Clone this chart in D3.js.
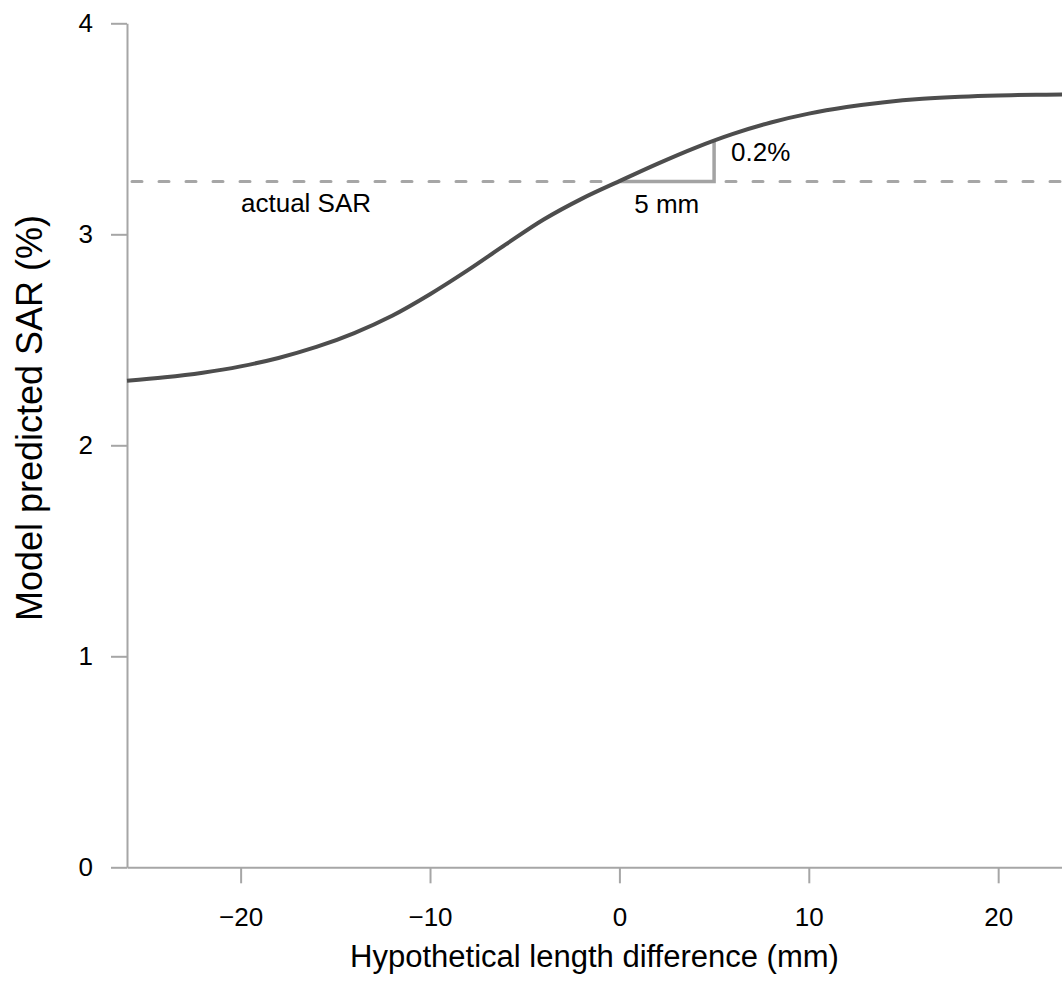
<!DOCTYPE html>
<meta charset="utf-8">
<style>

body { margin: 0; background: #fff; }

text {
  font-family: "Liberation Sans", Arial, sans-serif;
  fill: #000;
}

.axis path, .axis line {
  stroke: #a6a6a6;
  stroke-width: 2px;
}

.curve {
  fill: none;
  stroke: #4d4d4d;
  stroke-width: 4px;
}

.ref {
  stroke: #a6a6a6;
  stroke-width: 3px;
  stroke-dasharray: 10, 17;
  stroke-linecap: round;
}

.tri {
  fill: none;
  stroke: #a3a3a3;
  stroke-width: 3.5px;
}

</style>
<body>
<svg width="1062" height="985"></svg>

<script src="https://d3js.org/d3.v7.min.js"></script>

<script>

// length difference (mm) and predicted SAR (%)
var lengthDiff = [-26, -24, -22, -20, -18, -16, -14, -12, -10, -8, -6, -4, -2, 0, 2, 4, 6, 8, 10, 12, 14, 16, 18, 20, 22, 23.4];
var predSAR   = [2.306, 2.322, 2.344, 2.374, 2.414, 2.466, 2.532, 2.614, 2.716, 2.83, 2.952, 3.07, 3.168, 3.252, 3.334, 3.41, 3.476, 3.53, 3.572, 3.603, 3.626, 3.642, 3.652, 3.658, 3.661, 3.662];

var actualSAR = 3.25;
var xTicks = [-20, -10, 0, 10, 20];
var yTicks = [0, 1, 2, 3, 4];

// slope triangle: 5 mm run, rise up to the curve
var triRun = [0, 5];
var triTop = 3.44;

var svg = d3.select("svg"),
    width = 1062,
    height = 985;

var x = d3.scaleLinear().domain([-26, 23.37]).range([127, 1062]);
var y = d3.scaleLinear().domain([0, 4]).range([867.3, 23.3]);

var data = lengthDiff.map(function(d, i) { return {x: d, y: predSAR[i]}; });

// axes
svg.append("g")
    .attr("class", "axis")
    .attr("transform", "translate(0,867.3)")
    .call(d3.axisBottom(x).tickValues(xTicks).tickSize(16).tickPadding(24).tickSizeOuter(0)
      .tickFormat(function(d) { return d < 0 ? "\u2212" + Math.abs(d) : d; }))
    .call(function(g) {
      g.selectAll("text").style("font-size", "26px").attr("fill", "#000");
    });

svg.append("g")
    .attr("class", "axis")
    .attr("transform", "translate(127,0)")
    .call(d3.axisLeft(y).tickValues(yTicks).tickSize(16).tickPadding(18).tickSizeOuter(0)
      .tickFormat(d3.format("d")))
    .call(function(g) {
      g.selectAll("text").style("font-size", "26px").attr("fill", "#000");
    });

// actual SAR reference line
svg.append("line")
    .attr("class", "ref")
    .attr("x1", x.range()[0] + 5)
    .attr("x2", x.range()[1])
    .attr("y1", y(actualSAR))
    .attr("y2", y(actualSAR));

svg.append("text")
    .attr("x", 241)
    .attr("y", y(actualSAR) + 30)
    .style("font-size", "26px")
    .text("actual SAR");

// slope triangle
svg.append("path")
    .attr("class", "tri")
    .attr("d", d3.line()([
      [x(triRun[0]), y(actualSAR)],
      [x(triRun[1]), y(actualSAR)],
      [x(triRun[1]), y(triTop)]
    ]));

svg.append("text")
    .attr("x", (x(triRun[0]) + x(triRun[1])) / 2)
    .attr("y", y(actualSAR) + 31)
    .attr("text-anchor", "middle")
    .style("font-size", "26px")
    .text("5 mm");

svg.append("text")
    .attr("x", x(triRun[1]) + 17)
    .attr("y", y(triTop) + 20)
    .style("font-size", "26px")
    .text("0.2%");

// model curve
var line = d3.line()
    .x(function(d) { return x(d.x); })
    .y(function(d) { return y(d.y); })
    .curve(d3.curveCatmullRom);

svg.append("path")
    .datum(data)
    .attr("class", "curve")
    .attr("d", line);

// axis titles
svg.append("text")
    .attr("x", (x.range()[0] + x.range()[1]) / 2)
    .attr("y", 967)
    .attr("text-anchor", "middle")
    .style("font-size", "31px")
    .text("Hypothetical length difference (mm)");

svg.append("text")
    .attr("transform", "translate(42,418) rotate(-90)")
    .attr("text-anchor", "middle")
    .style("font-size", "36px")
    .text("Model predicted SAR (%)");

</script>
</body>
